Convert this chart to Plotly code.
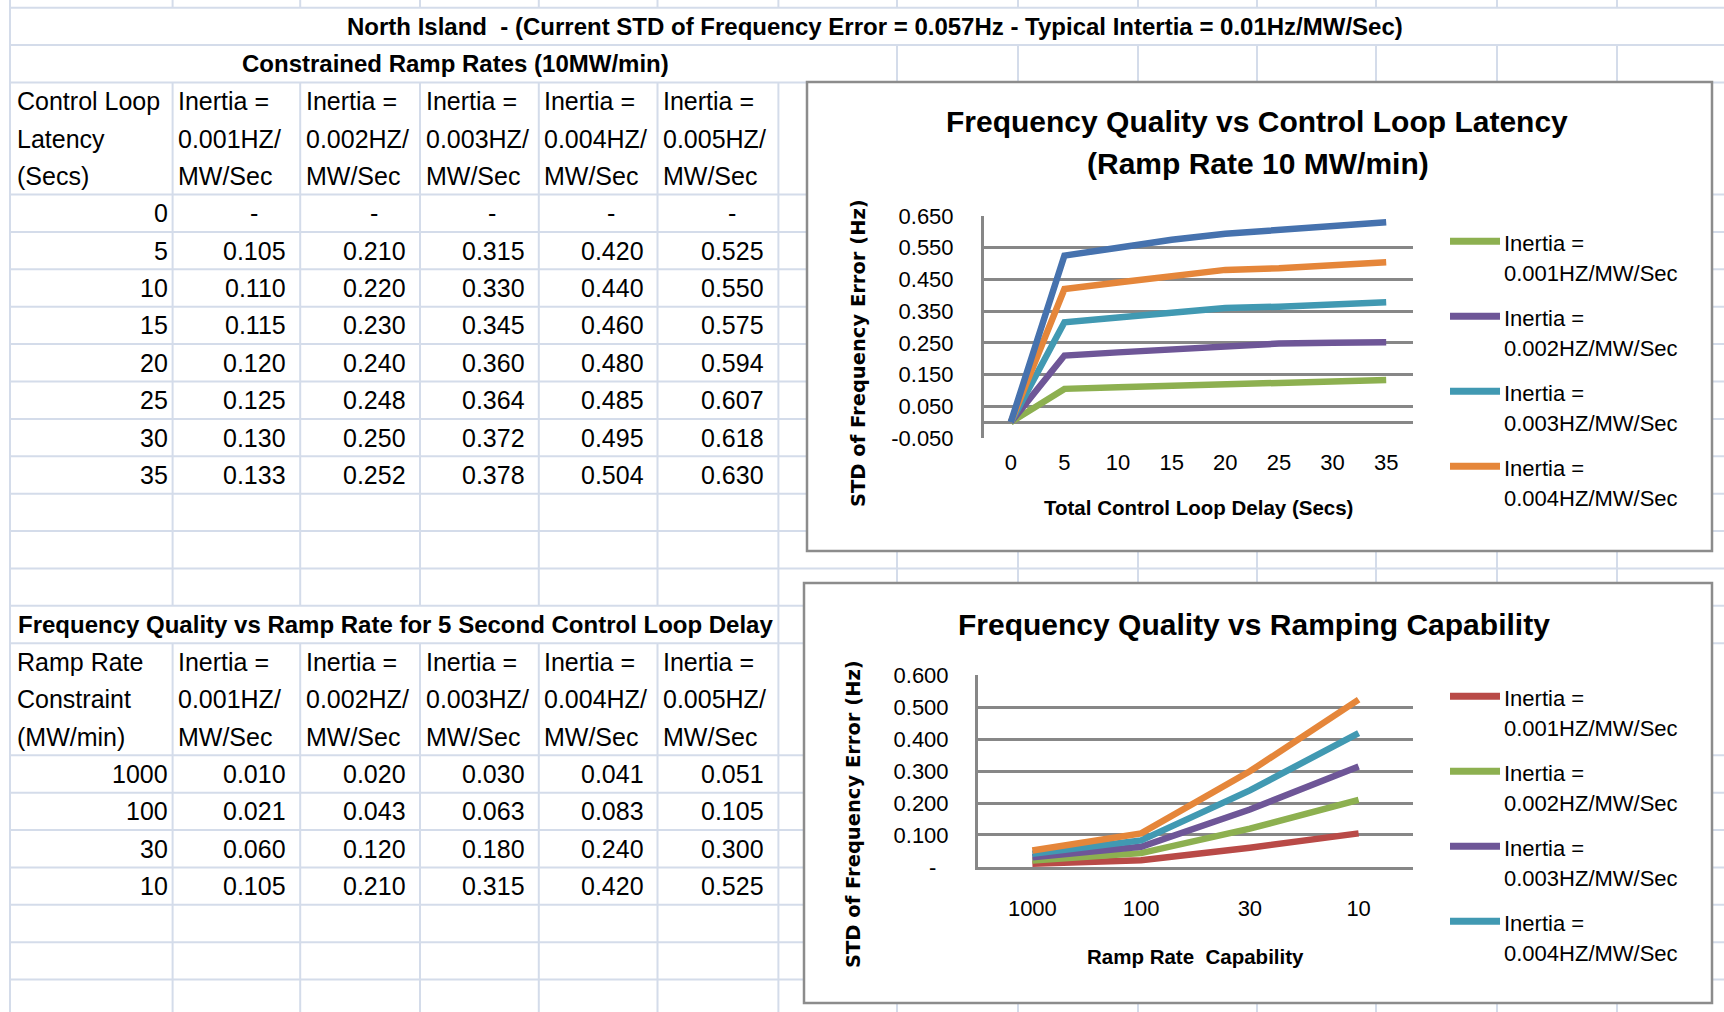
import plotly.graph_objects as go

W, H = 1724, 1012

# ---------------- data ----------------
latency = [0, 5, 10, 15, 20, 25, 30, 35]
inertia_names = ["0.001HZ/MW/Sec", "0.002HZ/MW/Sec", "0.003HZ/MW/Sec",
                 "0.004HZ/MW/Sec", "0.005HZ/MW/Sec"]
lat_i1 = [0, 0.105, 0.110, 0.115, 0.120, 0.125, 0.130, 0.133]
lat_i2 = [0, 0.210, 0.220, 0.230, 0.240, 0.248, 0.250, 0.252]
lat_i3 = [0, 0.315, 0.330, 0.345, 0.360, 0.364, 0.372, 0.378]
lat_i4 = [0, 0.420, 0.440, 0.460, 0.480, 0.485, 0.495, 0.504]
lat_i5 = [0, 0.525, 0.550, 0.575, 0.594, 0.607, 0.618, 0.630]

ramp_rates = [1000, 100, 30, 10]
ramp_i1 = [0.010, 0.021, 0.060, 0.105]
ramp_i2 = [0.020, 0.043, 0.120, 0.210]
ramp_i3 = [0.030, 0.063, 0.180, 0.315]
ramp_i4 = [0.041, 0.083, 0.240, 0.420]
ramp_i5 = [0.051, 0.105, 0.300, 0.525]

sheet_title = "North Island  - (Current STD of Frequency Error = 0.057Hz - Typical Intertia = 0.01Hz/MW/Sec)"
table1_title = "Constrained Ramp Rates (10MW/min)"
table2_title = "Frequency Quality vs Ramp Rate for 5 Second Control Loop Delay"
table1_rowhead = ["Control Loop", "Latency", "(Secs)"]
table2_rowhead = ["Ramp Rate", "Constraint", "(MW/min)"]
chart1_title = ["Frequency Quality vs Control Loop Latency", "(Ramp Rate 10 MW/min)"]
chart2_title = "Frequency Quality vs Ramping Capability"
chart1_xtitle = "Total Control Loop Delay (Secs)"
chart2_xtitle = "Ramp Rate  Capability"
y_title = "STD of Frequency Error (Hz)"
chart1_yticks = [-0.05, 0.05, 0.15, 0.25, 0.35, 0.45, 0.55, 0.65]
chart2_yticks = [0, 0.1, 0.2, 0.3, 0.4, 0.5, 0.6]

# ---------------- styles ----------------
BLUE, RED, GREEN = "#4672AE", "#B94A47", "#8DB050"
PURPLE, TEAL, ORANGE = "#6E5697", "#4199B2", "#E5863A"
GRID = "#878787"
SHEET = "#D4DCEA"
FONT = "Liberation Sans, Arial, sans-serif"
YFONT = "DejaVu Sans, Verdana, sans-serif"

lat_series = [lat_i1, lat_i2, lat_i3, lat_i4, lat_i5]
ramp_series = [ramp_i1, ramp_i2, ramp_i3, ramp_i4, ramp_i5]
chart1_colors = [GREEN, PURPLE, TEAL, ORANGE, BLUE]
chart2_colors = [RED, GREEN, PURPLE, TEAL, ORANGE]


def px(x):
    return x / W


def py(y):
    return 1 - y / H


# sheet geometry
col_edges = [10, 172.6, 300.2, 420, 538.8, 657.5, 778.4, 897, 1018, 1138, 1257, 1376, 1497, 1617]
row0, rh = 7.7, 37.38


def row_top(k):
    return row0 + k * rh


def row_mid(k):
    return row0 + (k + 0.5) * rh


fig = go.Figure()
shapes = []
annotations = []

# ---- spreadsheet grid ----
for k in range(0, 27):
    if k in (3, 4, 18, 19):
        continue
    y = row_top(k)
    shapes.append(dict(type="line", xref="paper", yref="paper", x0=px(10), x1=1,
                       y0=py(y), y1=py(y), line=dict(color=SHEET, width=2), layer="below"))
shapes.append(dict(type="line", xref="paper", yref="paper", x0=px(10), x1=px(10),
                   y0=0, y1=1, line=dict(color=SHEET, width=2), layer="below"))
for i, x in enumerate(col_edges[1:], start=1):
    segs = [(0, row_top(0)), (row_top(2), row_top(16)), (row_top(17), H)]
    if x >= 897:
        segs.append((row_top(1), row_top(2)))
    if x >= 778:
        segs.append((row_top(16), row_top(17)))
    for (a, b) in segs:
        shapes.append(dict(type="line", xref="paper", yref="paper", x0=px(x), x1=px(x),
                           y0=py(a), y1=py(b), line=dict(color=SHEET, width=2), layer="below"))

# chart boxes
for (x0, y0, x1, y1) in [(807, 82, 1712, 551), (804, 583, 1712, 1003)]:
    shapes.append(dict(type="rect", xref="paper", yref="paper", x0=px(x0), x1=px(x1),
                       y0=py(y1), y1=py(y0), fillcolor="white",
                       line=dict(color="#8C8C8C", width=2.5), layer="below"))


def txt(x, y, s, xanchor="left", size=25, bold=False, family=FONT, angle=0):
    annotations.append(dict(xref="paper", yref="paper", x=px(x), y=py(y), text=s,
                            showarrow=False, xanchor=xanchor, yanchor="middle",
                            textangle=angle,
                            font=dict(family=family, size=size, color="black",
                                      weight="bold" if bold else "normal")))


# ---- table text ----
txt(875, row_mid(0), sheet_title, "center", 24, True)
txt(455.5, row_mid(1), table1_title, "center", 24, True)
txt(395.3, row_mid(16), table2_title, "center", 24, True)


def table(head_row, rowhead, cats, series):
    for j, s in enumerate(rowhead):
        txt(14.5, row_mid(head_row + j), s)
    for c in range(5):
        left = col_edges[c + 1]
        nm = inertia_names[c]
        parts = ["Inertia =", nm[:8], nm[8:]]
        for j, s in enumerate(parts):
            txt(left + 3.5, row_mid(head_row + j), s)
    for r, cat in enumerate(cats):
        k = head_row + 3 + r
        txt(col_edges[1] - 3, row_mid(k), str(cat), "right")
        for c in range(5):
            right = col_edges[c + 2]
            v = series[c][r]
            if v == 0:
                txt(right - 46.5, row_mid(k), "-", "center")
            else:
                txt(right - 12, row_mid(k), f"{v:.3f}", "right")


table(2, table1_rowhead, latency, lat_series)
table(17, table2_rowhead, ramp_rates, ramp_series)

# ---- charts ----
for c in range(5):
    fig.add_trace(go.Scatter(x=[str(v) for v in latency], y=lat_series[c], mode="lines",
                             line=dict(color=chart1_colors[c], width=6.5),
                             name="Inertia = " + inertia_names[c],
                             xaxis="x", yaxis="y", showlegend=False))
for c in range(5):
    fig.add_trace(go.Scatter(x=[str(v) for v in ramp_rates], y=ramp_series[c], mode="lines",
                             line=dict(color=chart2_colors[c], width=6.5),
                             name="Inertia = " + inertia_names[c],
                             xaxis="x2", yaxis="y2", showlegend=False))

tickfont = dict(family=FONT, size=22, color="black")

# chart titles, axis titles
txt(1257, 121.5, chart1_title[0], "center", 30, True)
txt(1258, 164, chart1_title[1], "center", 30, True)
txt(1198, 507, chart1_xtitle, "center", 20.5, True)
txt(858, 353, y_title, "center", 19.5, True, YFONT, -90)

txt(1254, 624, chart2_title, "center", 30, True)
txt(1195, 956.5, chart2_xtitle, "center", 20.5, True)
txt(853, 814, y_title, "center", 19.5, True, YFONT, -90)

# manual legends (only the entries visible in the reference)
leg1_y = [243.3, 318.3, 393.3, 468.3]
leg2_y = [698.3, 773.3, 848.3, 923.3]
for legy, colors in [(leg1_y, chart1_colors), (leg2_y, chart2_colors)]:
    for i, y in enumerate(legy):
        shapes.append(dict(type="line", xref="paper", yref="paper", x0=px(1450), x1=px(1500),
                           y0=py(y - 2), y1=py(y - 2),
                           line=dict(color=colors[i], width=7), layer="above"))
        txt(1502, y, "Inertia =", "left", 22)
        txt(1502, y + 30, inertia_names[i], "left", 22)

c1_ticktext = [f"{v:.3f}" for v in chart1_yticks]
c2_ticktext = [("-\u00a0\u00a0" if v == 0 else f"{v:.3f}") for v in chart2_yticks]

fig.update_layout(
    width=W, height=H, autosize=False,
    margin=dict(l=0, r=0, t=0, b=0, pad=0, autoexpand=False),
    paper_bgcolor="white", plot_bgcolor="rgba(0,0,0,0)",
    showlegend=False,
    xaxis=dict(domain=[px(984), px(1413)], anchor="y", type="category",
               range=[-0.5, len(latency) - 0.5],
               showgrid=False, zeroline=False, ticks="", tickfont=tickfont,
               ticklabelstandoff=9, automargin=False, fixedrange=True),
    yaxis=dict(domain=[py(438.3), py(215.7)], anchor="x", range=[-0.0508, 0.6508],
               tickvals=chart1_yticks, ticktext=c1_ticktext,
               showgrid=True, gridcolor=GRID, gridwidth=3,
               zeroline=True, zerolinecolor=GRID, zerolinewidth=3,
               showline=True, linecolor=GRID, linewidth=3, automargin=False,
               ticks="", tickfont=tickfont, ticklabelstandoff=23, fixedrange=True),
    xaxis2=dict(domain=[px(978), px(1413)], anchor="y2", type="category",
                range=[-0.5, len(ramp_rates) - 0.5],
                showline=True, linecolor=GRID, linewidth=3, automargin=False,
                ticklabelstandoff=19, showgrid=False, zeroline=False, ticks="",
                tickfont=tickfont, fixedrange=True),
    yaxis2=dict(domain=[py(867.3), py(675.3)], anchor="x2", range=[-0.0015, 0.6015],
                tickvals=chart2_yticks, ticktext=c2_ticktext,
                showgrid=True, gridcolor=GRID, gridwidth=3, zeroline=False,
                showline=True, linecolor=GRID, linewidth=3, automargin=False,
                ticks="", tickfont=tickfont, ticklabelstandoff=22, fixedrange=True),
    shapes=shapes,
    annotations=annotations,
)

fig.write_html("out.html", config={"displayModeBar": False},
               post_script="document.body.style.margin='0';document.body.style.overflow='hidden';")
